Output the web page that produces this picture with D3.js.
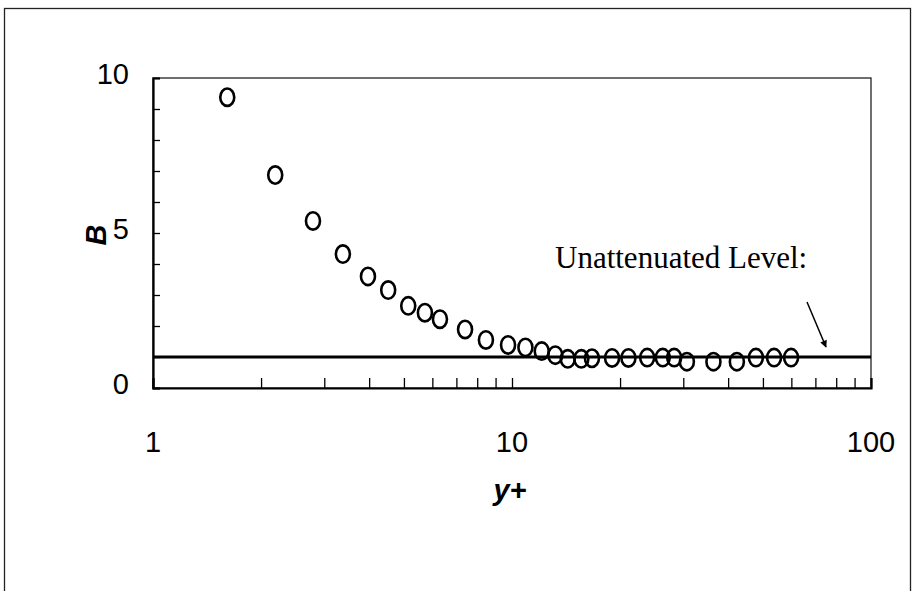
<!DOCTYPE html>
<html>
<head>
<meta charset="utf-8">
<script src="https://cdn.jsdelivr.net/npm/d3@7"></script>
<style>
  html, body { margin: 0; padding: 0; background: #fff; }
  svg { display: block; }
</style>
</head>
<body>
<svg id="chart" width="914" height="591"></svg>
<script>
// ---- data ----
const yPlus = [1.61, 2.19, 2.79, 3.38, 3.97, 4.52, 5.14, 5.72, 6.30, 7.40,
               8.46, 9.75, 10.9, 12.1, 13.2, 14.3, 15.6, 16.7, 19.0, 21.1,
               23.8, 26.3, 28.3, 30.7, 36.4, 42.3, 47.8, 53.7, 59.9];
const bValues = [9.38, 6.87, 5.39, 4.32, 3.60, 3.16, 2.65, 2.43, 2.22, 1.89,
                 1.55, 1.39, 1.31, 1.19, 1.06, 0.94, 0.94, 0.96, 0.97, 0.97,
                 0.98, 0.98, 0.98, 0.85, 0.85, 0.85, 0.98, 0.98, 0.98];
const unattenuatedLevel = 1;
const xTickLabels = [1, 10, 100];
const yTickLabels = [0, 5, 10];
const xDomain = [1, 100];
const yDomain = [0, 10];
const annotationText = "Unattenuated Level:";
const xTitle = "y+";
const yTitle = "B";

// ---- layout ----
const svg = d3.select("#chart");
const plot = { left: 153, right: 871, top: 78, bottom: 388 };

const x = d3.scaleLog().domain(xDomain).range([plot.left, plot.right]);
const y = d3.scaleLinear().domain(yDomain).range([plot.bottom, plot.top]);

// outer frame
svg.append("rect")
  .attr("x", 4.5).attr("y", 8.5).attr("width", 906).attr("height", 620)
  .attr("fill", "none").attr("stroke", "#222").attr("stroke-width", 1.3);

// plot frame
svg.append("rect")
  .attr("x", plot.left).attr("y", plot.top)
  .attr("width", plot.right - plot.left).attr("height", plot.bottom - plot.top)
  .attr("fill", "none").attr("stroke", "#222").attr("stroke-width", 1.3);

// x axis (ticks pointing inward / upward)
const xMinor = [];
for (let d = 1; d < 100; d *= 10) for (let k = 1; k <= 9; k++) xMinor.push(d * k);
xMinor.push(100);
const xAxis = d3.axisTop(x).tickValues(xMinor).tickSize(10).tickFormat("");
const gx = svg.append("g").attr("transform", `translate(0,${plot.bottom})`).call(xAxis);
gx.select(".domain").attr("stroke", "#000").attr("stroke-width", 2.2);
gx.selectAll(".tick line").attr("stroke", "#000").attr("stroke-width", 1.3);

// y axis (ticks pointing inward / right)
const yAxis = d3.axisRight(y).tickValues(d3.range(0, 11, 1)).tickSize(7).tickFormat("");
const gy = svg.append("g").attr("transform", `translate(${plot.left},0)`).call(yAxis);
gy.select(".domain").attr("stroke", "#000").attr("stroke-width", 2.2);
gy.selectAll(".tick line").attr("stroke", "#000").attr("stroke-width", 1.3);

// tick labels
svg.append("g").selectAll("text").data(xTickLabels).join("text")
  .attr("x", d => x(d)).attr("y", 442)
  .attr("text-anchor", "middle").attr("dominant-baseline", "central")
  .attr("font-family", "Liberation Sans, Arial, sans-serif").attr("font-size", 29)
  .text(d => d);

svg.append("g").selectAll("text").data(yTickLabels).join("text")
  .attr("x", 129).attr("y", d => y(d) - 4)
  .attr("text-anchor", "end").attr("dominant-baseline", "central")
  .attr("font-family", "Liberation Sans, Arial, sans-serif").attr("font-size", 29)
  .text(d => d);

// axis titles
svg.append("text")
  .attr("x", 510).attr("y", 490)
  .attr("text-anchor", "middle").attr("dominant-baseline", "central")
  .attr("font-family", "Liberation Sans, Arial, sans-serif").attr("font-size", 29)
  .attr("font-weight", "bold").attr("font-style", "italic")
  .text(xTitle);

svg.append("text")
  .attr("transform", "translate(96,235) rotate(-90)")
  .attr("text-anchor", "middle").attr("dominant-baseline", "central")
  .attr("font-family", "Liberation Sans, Arial, sans-serif").attr("font-size", 29)
  .attr("font-weight", "bold").attr("font-style", "italic")
  .text(yTitle);

// unattenuated level line
svg.append("line")
  .attr("x1", plot.left).attr("x2", plot.right)
  .attr("y1", y(unattenuatedLevel)).attr("y2", y(unattenuatedLevel))
  .attr("stroke", "#000").attr("stroke-width", 3);

// data markers (open ovals)
svg.append("g").selectAll("ellipse").data(yPlus.map((v, i) => [v, bValues[i]])).join("ellipse")
  .attr("cx", d => x(d[0])).attr("cy", d => y(d[1]))
  .attr("rx", 7).attr("ry", 8.7)
  .attr("fill", "none").attr("stroke", "#000").attr("stroke-width", 2.6);

// annotation
svg.append("text")
  .attr("x", 555).attr("y", 268)
  .attr("font-family", "Liberation Serif, Times New Roman, serif").attr("font-size", 31)
  .text(annotationText);

// arrow
const defs = svg.append("defs");
defs.append("marker")
  .attr("id", "arrowhead").attr("viewBox", "0 0 10 10")
  .attr("refX", 9).attr("refY", 5)
  .attr("markerWidth", 9).attr("markerHeight", 7)
  .attr("markerUnits", "userSpaceOnUse")
  .attr("orient", "auto")
  .append("path").attr("d", "M0,0 L10,5 L0,10 Z").attr("fill", "#000");

svg.append("line")
  .attr("x1", 807).attr("y1", 302).attr("x2", 826).attr("y2", 347)
  .attr("stroke", "#000").attr("stroke-width", 1.5)
  .attr("marker-end", "url(#arrowhead)");
</script>
</body>
</html>
